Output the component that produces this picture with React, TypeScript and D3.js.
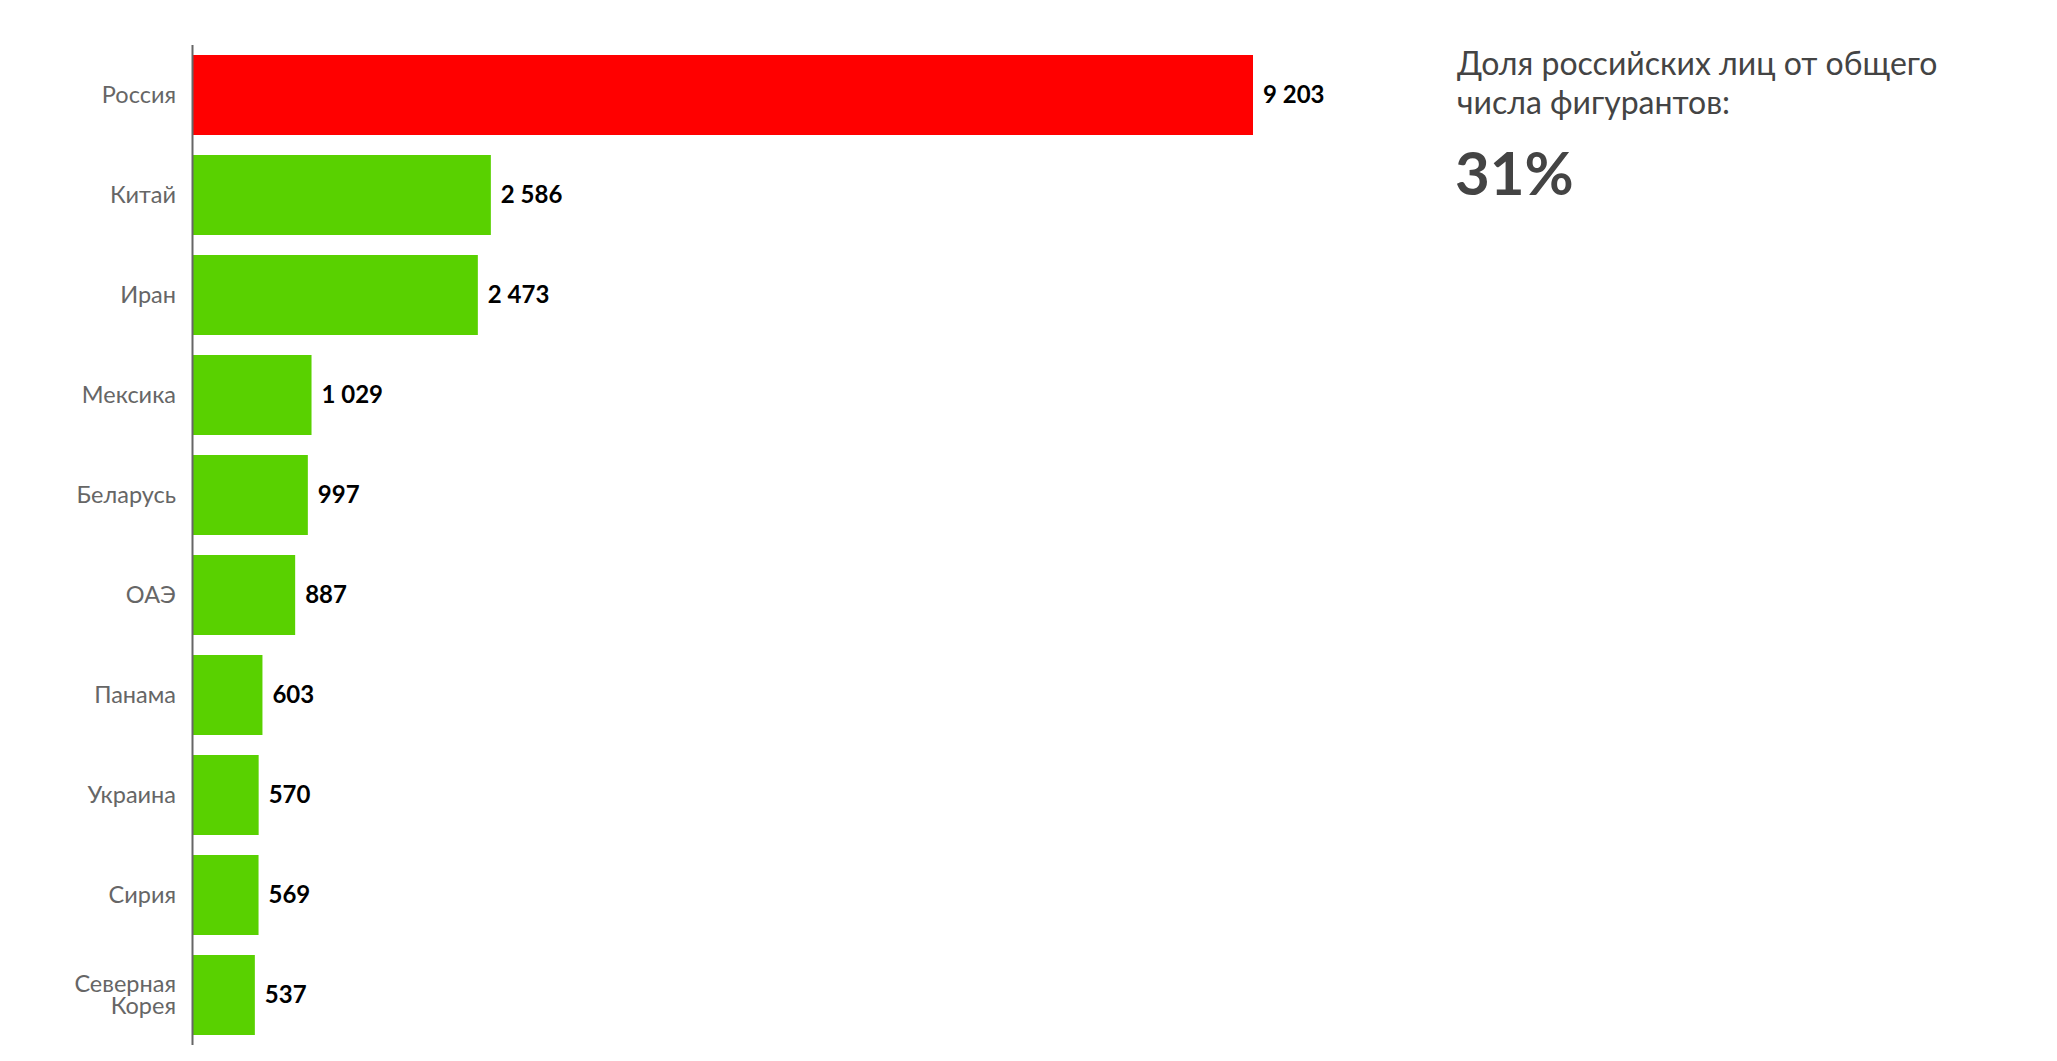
import React from "react";
import * as d3 from "d3";

const countries = [
  "Россия",
  "Китай",
  "Иран",
  "Мексика",
  "Беларусь",
  "ОАЭ",
  "Панама",
  "Украина",
  "Сирия",
  "Северная Корея",
];
const values = [9203, 2586, 2473, 1029, 997, 887, 603, 570, 569, 537];
const highlighted = ["Россия"];
const noteLines = ["Доля российских лиц от общего", "числа фигурантов:"];
const noteValue = "31%";

const W = 2057;
const H = 1061;
const FONT = "Lato, 'Noto Sans', sans-serif";

export default function App() {
  const x = d3
    .scaleLinear()
    .domain([0, d3.max(values) as number])
    .range([193, 1253]);
  const y = d3
    .scaleBand<string>()
    .domain(countries)
    .range([45, 1045])
    .paddingInner(0.2)
    .paddingOuter(0.1);
  const fmt = d3
    .formatLocale({ thousands: " ", grouping: [3], decimal: ",", currency: ["", ""] })
    .format(",d");

  const data = countries.map((c, i) => ({ c, v: values[i] }));

  return (
    <div style={{ position: "absolute", left: 0, top: 0, width: W, height: H, background: "#fff" }}>
      <svg width={W} height={H} style={{ display: "block" }}>
        {data.map((d) => {
          const yc = (y(d.c) as number) + y.bandwidth() / 2;
          const words = d.c.split(" ");
          return (
            <g key={d.c}>
              <rect
                x={x(0)}
                y={y(d.c)}
                width={x(d.v) - x(0)}
                height={y.bandwidth()}
                fill={highlighted.includes(d.c) ? "#ff0000" : "#59d100"}
              />
              {words.length === 1 ? (
                <text
                  x={176}
                  y={yc}
                  dy="0.35em"
                  textAnchor="end"
                  fontFamily={FONT}
                  fontSize={23.5}
                  fill="#666"
                >
                  {d.c}
                </text>
              ) : (
                <text textAnchor="end" fontFamily={FONT} fontSize={23.5} fill="#666">
                  {words.map((w, i) => (
                    <tspan key={w} x={176} y={yc - 11 + i * 22} dy="0.35em">
                      {w}
                    </tspan>
                  ))}
                </text>
              )}
              <text
                x={x(d.v) + 10}
                y={yc}
                dy="0.35em"
                fontFamily={FONT}
                fontSize={24}
                fontWeight={700}
                fill="#000"
              >
                {fmt(d.v)}
              </text>
            </g>
          );
        })}
        <line x1={192.5} x2={192.5} y1={45} y2={1045} stroke="#666" strokeWidth={2} />
        <g fontFamily={FONT} fill="#444">
          {noteLines.map((l, i) => (
            <text key={l} x={1457} y={75 + i * 39} fontSize={32}>
              {l}
            </text>
          ))}
          <text x={1455} y={195} fontSize={60} fontWeight={700}>
            {noteValue}
          </text>
        </g>
      </svg>
    </div>
  );
}
